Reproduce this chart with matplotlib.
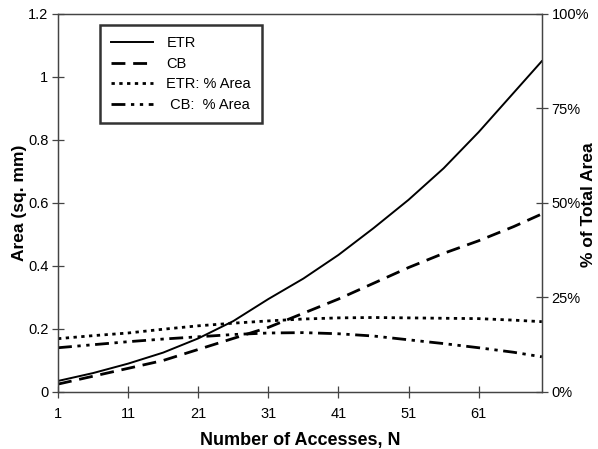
import matplotlib.pyplot as plt
import numpy as np

plt.rcParams['font.family'] = ['Liberation Sans', 'DejaVu Sans']

n_acc = [1, 6, 11, 16, 21, 26, 31, 36, 41, 46, 51, 56, 61, 66, 70]

# Area in sq. mm (left axis)
etr_area = [0.035, 0.06, 0.09, 0.125, 0.17, 0.225, 0.295, 0.36, 0.435,
            0.52, 0.61, 0.71, 0.825, 0.95, 1.05]
cb_area = [0.025, 0.05, 0.075, 0.10, 0.135, 0.17, 0.205, 0.25, 0.295,
           0.345, 0.395, 0.44, 0.48, 0.525, 0.565]

# % of total area (right axis)
etr_pct = [14.1, 14.9, 15.6, 16.6, 17.5, 18.2, 18.8, 19.3, 19.6,
           19.7, 19.6, 19.5, 19.4, 19.0, 18.6]
cb_pct = [11.7, 12.5, 13.3, 14.0, 14.6, 15.2, 15.6, 15.7, 15.4,
          14.8, 13.8, 12.8, 11.7, 10.5, 9.3]

x_ticks = [1, 11, 21, 31, 41, 51, 61]

fig = plt.figure(figsize=(5.98, 4.49), dpi=100)
ax = fig.add_axes([0.097, 0.127, 0.809, 0.842])
ax2 = ax.twinx()

l1, = ax.plot(n_acc, etr_area, color='black', lw=1.4, label='ETR')
l2, = ax.plot(n_acc, cb_area, color='black', lw=2.0, dashes=(5, 2.8), label='CB')
l3, = ax2.plot(n_acc, etr_pct, color='black', lw=2.0, dashes=(1.2, 1.6), label='ETR: % Area')
l4, = ax2.plot(n_acc, cb_pct, color='black', lw=2.0, dashes=(5, 2, 1.2, 2, 1.2, 2),
               label=' CB:  % Area')

ax.set_xlim(1, 70)
ax.set_ylim(0, 1.2)
ax.set_yticks(np.arange(0, 1.21, 0.2))
ax.set_yticklabels(['0', '0.2', '0.4', '0.6', '0.8', '1', '1.2'])
ax.set_xticks(x_ticks)
ax2.set_ylim(0, 100)
ax2.set_yticks([0, 25, 50, 75, 100])
ax2.set_yticklabels(['0%', '25%', '50%', '75%', '100%'])

for a in (ax, ax2):
    for s in a.spines.values():
        s.set_color('#444444')
        s.set_linewidth(0.9)
    a.tick_params(direction='inout', length=8, width=0.9, color='#444444',
                  labelsize=10.5, pad=3)
ax.tick_params(axis='x', pad=7)

ax.set_xlabel('Number of Accesses, N', fontsize=13, fontweight='bold', labelpad=8)
ax.set_ylabel('Area (sq. mm)', fontsize=12.5, fontweight='bold')
ax.yaxis.set_label_coords(-0.064, 0.5)
fig.text(0.972, 0.545, '% of Total Area', rotation=90, fontsize=12.5,
         fontweight='bold', ha='left', va='center')

leg = ax.legend(handles=[l1, l2, l3, l4], loc='upper left',
                bbox_to_anchor=(0.087, 0.97), fontsize=10.5, frameon=True,
                fancybox=False, handlelength=2.9, borderpad=0.75,
                labelspacing=0.45, handletextpad=0.9, borderaxespad=0)
leg.get_frame().set_edgecolor('black')
leg.get_frame().set_linewidth(1.8)

fig.savefig('out.png', dpi=100)
